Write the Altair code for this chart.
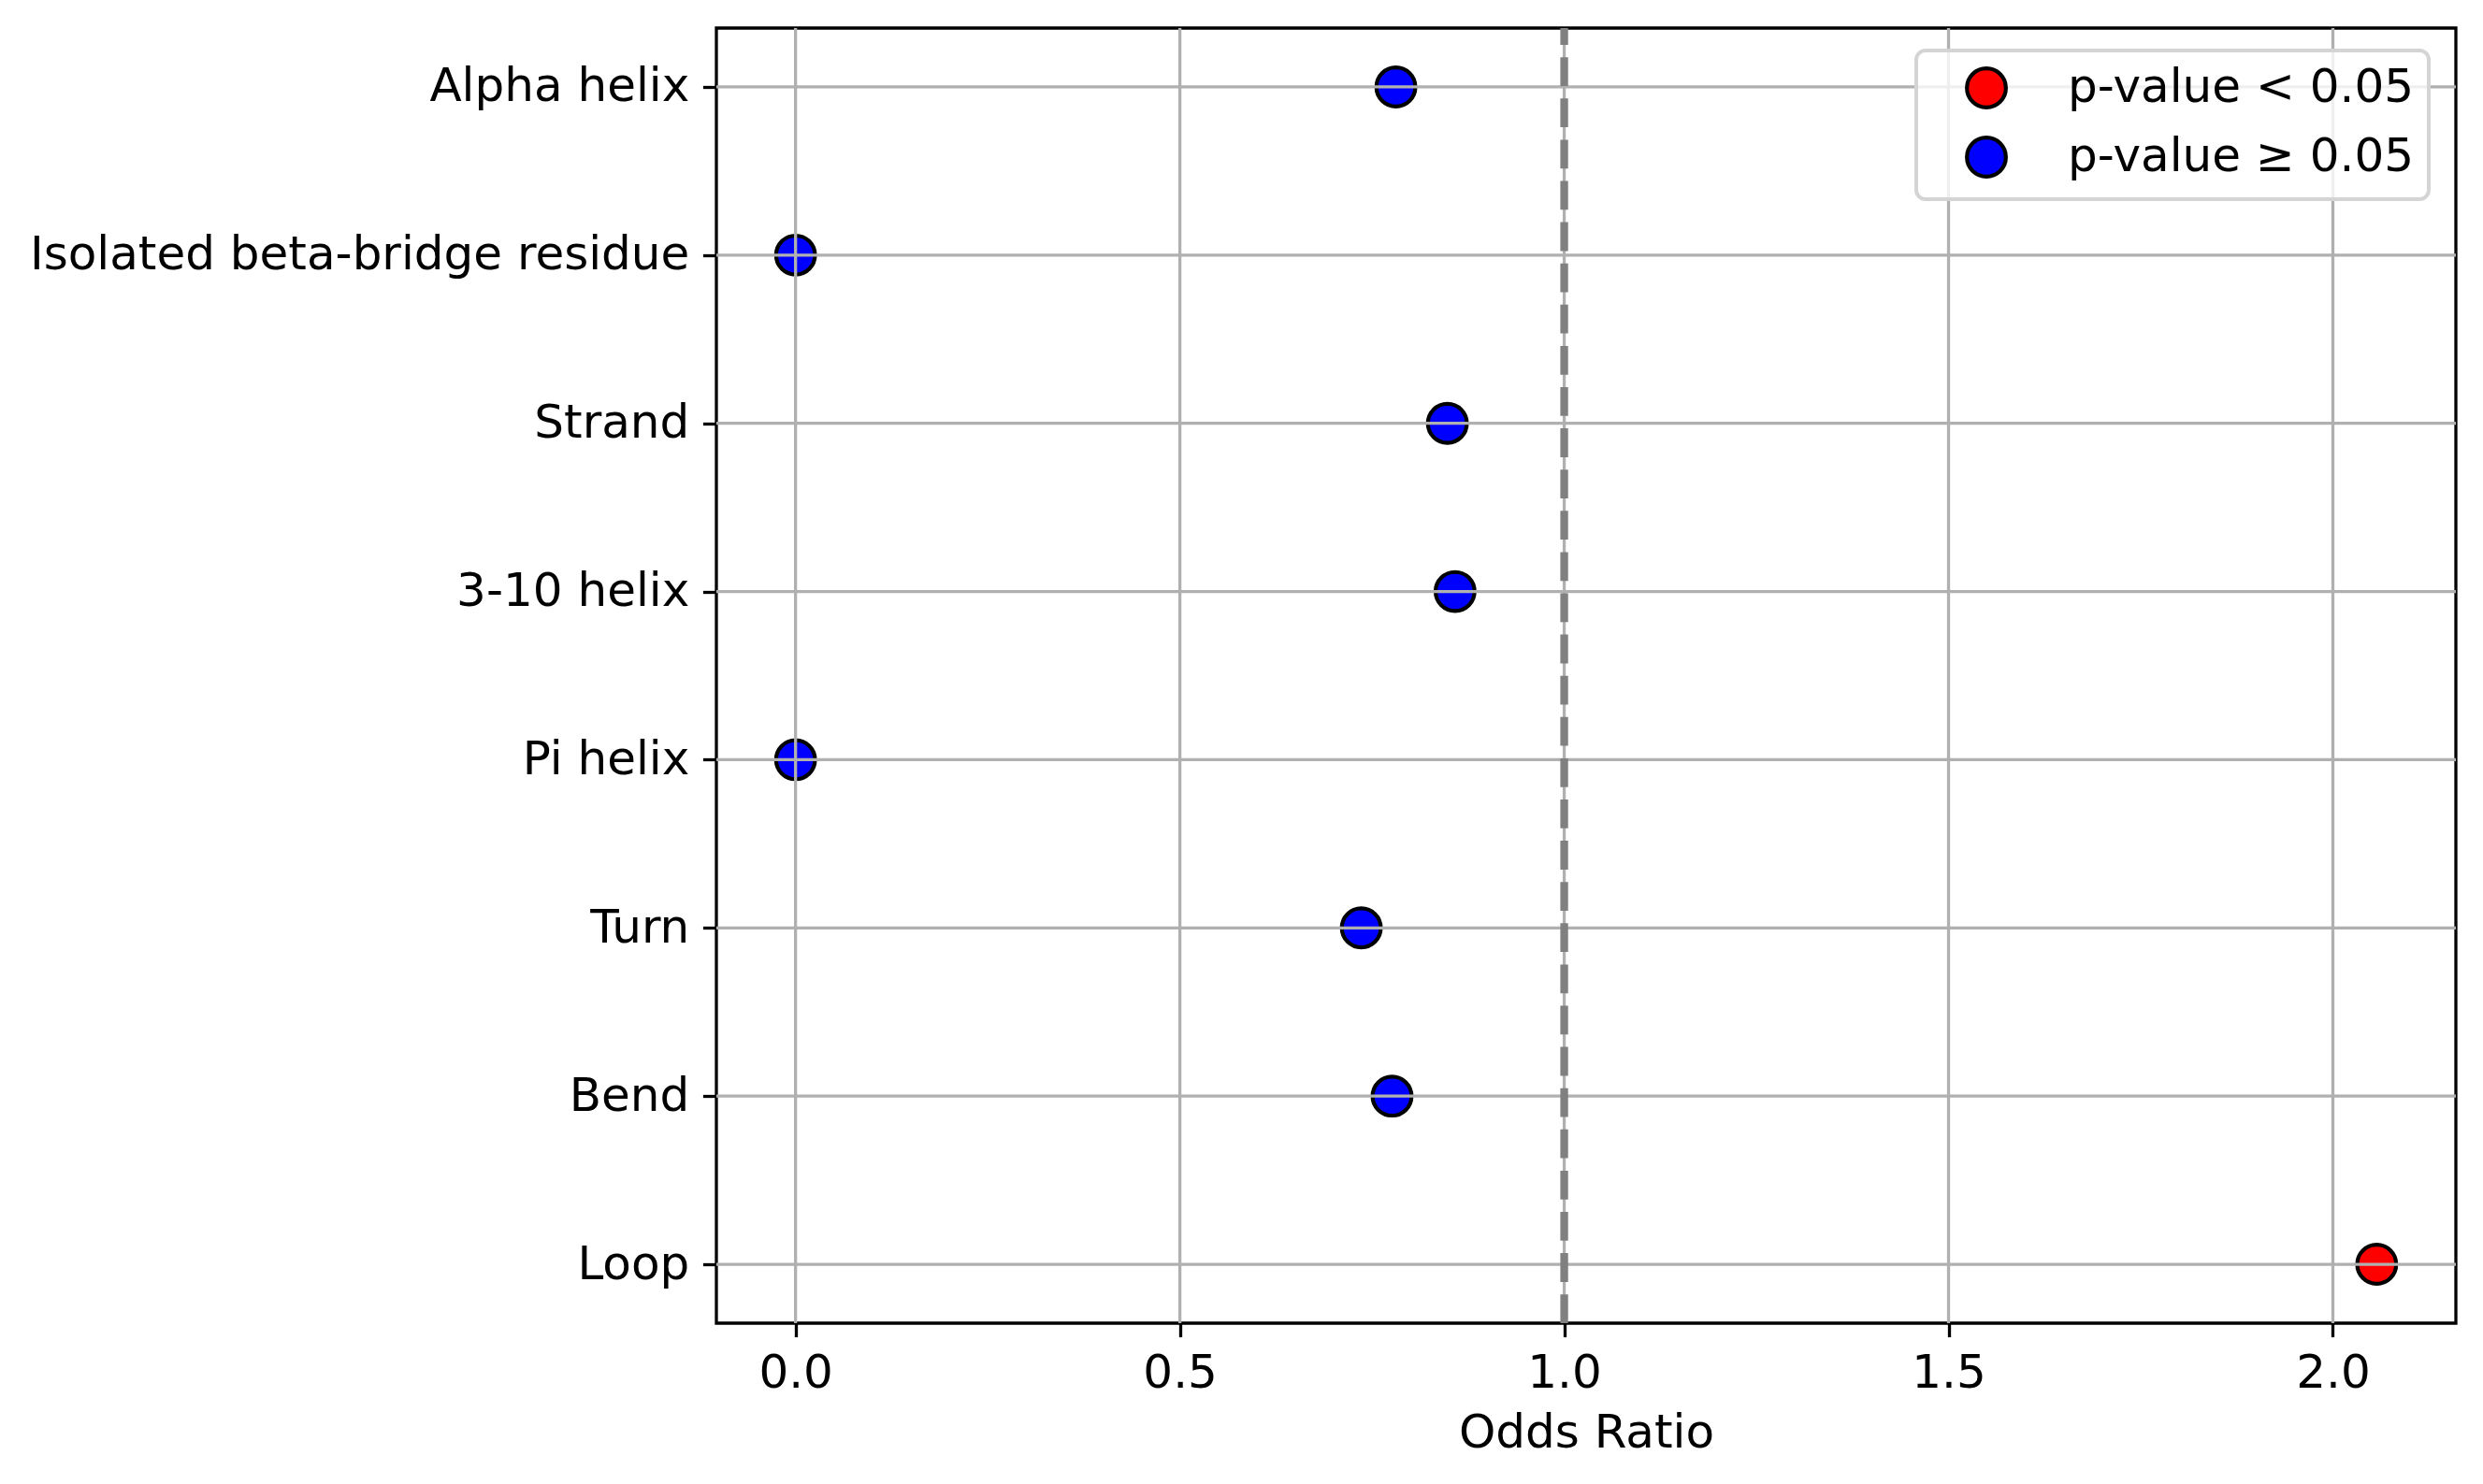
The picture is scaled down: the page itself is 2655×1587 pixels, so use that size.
import altair as alt
import pandas as pd

# ---- data ----
categories = ["Alpha helix", "Isolated beta-bridge residue", "Strand", "3-10 helix",
              "Pi helix", "Turn", "Bend", "Loop"]
odds_ratios = [0.781, 0.0, 0.848, 0.858, 0.0, 0.736, 0.776, 2.057]
significance = ["p-value ≥ 0.05", "p-value ≥ 0.05", "p-value ≥ 0.05", "p-value ≥ 0.05",
                "p-value ≥ 0.05", "p-value ≥ 0.05", "p-value ≥ 0.05", "p-value < 0.05"]
legend_labels = ["p-value < 0.05", "p-value ≥ 0.05"]
legend_colors = ["#ff0000", "#0000ff"]
x_ticks = [0.0, 0.5, 1.0, 1.5, 2.0]
reference_line = [1.0]

df = pd.DataFrame({"cat": categories, "odds": odds_ratios, "sig": significance})
ref_df = pd.DataFrame({"odds": reference_line})
xgrid_df = pd.DataFrame({"odds": x_ticks})
ygrid_df = pd.DataFrame({"cat": categories})

W, H = 1860, 1385
FONT = "DejaVu Sans"
GRID = "#b0b0b0"

x_scale = alt.Scale(domain=[-0.103, 2.160], nice=False, zero=False)
y_scale = alt.Scale(type="point", padding=0.35)

points = alt.Chart(df).mark_point(
    filled=True, size=1736, stroke="black", strokeWidth=4.2, opacity=1, shape="circle"
).encode(
    x=alt.X("odds:Q", scale=x_scale,
            axis=alt.Axis(values=x_ticks, format=".1f", title="Odds Ratio",
                          grid=False, domain=False, tickColor="black", tickWidth=3.3,
                          tickSize=14.6, labelPadding=14, labelFont=FONT, labelFontSize=50,
                          labelColor="black", titleFont=FONT, titleFontSize=50,
                          titleFontWeight="normal", titleColor="black", titlePadding=14)),
    y=alt.Y("cat:N", sort=categories, scale=y_scale,
            axis=alt.Axis(title=None, grid=False, domain=False, tickColor="black",
                          tickWidth=3.3, tickSize=14.6, labelPadding=14.6, labelFont=FONT,
                          labelFontSize=50, labelColor="black", labelLimit=0)),
    color=alt.Color("sig:N", scale=alt.Scale(domain=legend_labels, range=legend_colors),
                    legend=alt.Legend(title=None, orient="none", legendX=1283, legendY=24,
                                      padding=15, symbolOffset=35, labelOffset=62, rowPadding=14,
                                      fillColor="rgba(255,255,255,0.8)", strokeColor="#d4d4d4",
                                      cornerRadius=10, labelFont=FONT, labelFontSize=50,
                                      labelColor="black", labelLimit=0, zindex=5,
                                      symbolType="circle", symbolSize=1736,
                                      symbolStrokeColor="black", symbolStrokeWidth=4.2,
                                      symbolOpacity=1)),
)

# grid lines drawn above the points (as in the reference) but below the dashed line
xgrid = alt.Chart(xgrid_df).mark_rule(color=GRID, strokeWidth=3.3).encode(
    x=alt.X("odds:Q", scale=x_scale),
    y=alt.value(0), y2=alt.value(H),
)
ygrid = alt.Chart(ygrid_df).mark_rule(color=GRID, strokeWidth=3.3).encode(
    y=alt.Y("cat:N", sort=categories, scale=y_scale),
    x=alt.value(0), x2=alt.value(W),
)

rule = alt.Chart(ref_df).mark_rule(
    color="gray", strokeWidth=8.3, strokeDash=[30.8, 13.3]
).encode(
    x=alt.X("odds:Q", scale=x_scale),
    y=alt.value(H), y2=alt.value(0),
)

chart = alt.layer(points, xgrid, ygrid, rule).properties(
    width=W, height=H,
    autosize=alt.AutoSizeParams(type="none"),
    padding={"left": 758, "top": 22, "right": 21, "bottom": 160},
).configure_view(
    stroke="black", strokeWidth=3.3
).configure_legend(
    strokeWidth=4
)

chart.save("out.html", embed_options={"renderer": "svg", "actions": False})
